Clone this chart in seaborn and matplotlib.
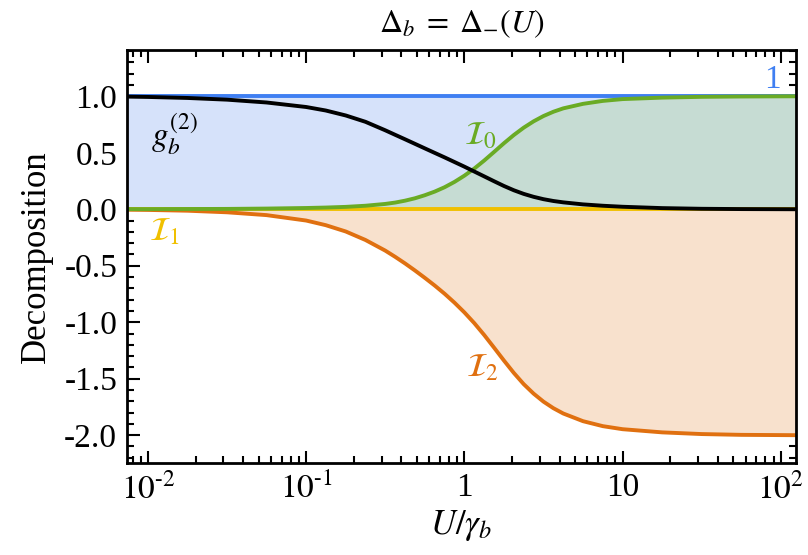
import matplotlib
matplotlib.use("Agg")
import matplotlib.pyplot as plt
import seaborn as sns
from matplotlib.ticker import FormatStrFormatter, MultipleLocator, LogLocator

# values (U / gamma_b on a log axis)
U = [0.0074, 0.01, 0.0178, 0.0316, 0.0562, 0.1, 0.133, 0.178, 0.237, 0.316,
     0.365, 0.422, 0.487, 0.562, 0.649, 0.75, 0.866, 1.0, 1.155, 1.334,
     1.54, 1.778, 2.054, 2.371, 2.738, 3.162, 3.652, 4.217, 5.623, 7.5,
     10, 17.78, 31.6, 56.2, 125]
g2 = [0.997, 0.994, 0.985, 0.970, 0.945, 0.905, 0.874, 0.830, 0.774, 0.699,
      0.659, 0.619, 0.579, 0.539, 0.499, 0.459, 0.418, 0.377, 0.334, 0.291,
      0.248, 0.206, 0.168, 0.136, 0.110, 0.089, 0.073, 0.061, 0.043, 0.031,
      0.022, 0.010, 0.004, 0.0015, 0.0]
I0 = [0.001, 0.001, 0.002, 0.003, 0.006, 0.011, 0.015, 0.021, 0.031, 0.047,
      0.059, 0.076, 0.097, 0.124, 0.156, 0.195, 0.242, 0.297, 0.36, 0.431,
      0.507, 0.584, 0.657, 0.722, 0.778, 0.825, 0.863, 0.893, 0.933, 0.959,
      0.975, 0.988, 0.995, 0.998, 1.0]
I1 = [0.0] * len(U)
I2 = [-0.004, -0.006, -0.013, -0.027, -0.052, -0.10, -0.141, -0.197, -0.272, -0.366,
      -0.421, -0.48, -0.542, -0.607, -0.675, -0.748, -0.827, -0.913, -1.008, -1.113,
      -1.225, -1.339, -1.449, -1.548, -1.632, -1.703, -1.761, -1.808, -1.876, -1.92,
      -1.947, -1.975, -1.99, -1.997, -2.0]
unit = [1.0] * len(U)

c_blue = '#3f7ff2'
c_green = '#6aab25'
c_yellow = '#f0c000'
c_orange = '#e07010'

sns.set_style('ticks')
plt.rcParams['font.family'] = ['Liberation Serif', 'DejaVu Serif']
plt.rcParams['mathtext.fontset'] = 'stix'
plt.rcParams['axes.unicode_minus'] = False
for k in ['text.color', 'axes.labelcolor', 'xtick.color', 'ytick.color', 'axes.edgecolor']:
    plt.rcParams[k] = 'black'

fig = plt.figure(figsize=(8.08, 5.55), dpi=100)
ax = fig.add_axes([0.157, 0.166, 0.828, 0.744])

# 填充区域
ax.fill_between(U, 0, unit, color='#d6e2fa', lw=0)
ax.fill_between(U, 0, I0, color='#c6dcd3', lw=0)
ax.fill_between(U, I2, 0, color='#f8e1cd', lw=0)

lw = 2.8
sns.lineplot(x=U, y=unit, ax=ax, color=c_blue, lw=lw)
sns.lineplot(x=U, y=I1, ax=ax, color=c_yellow, lw=lw)
sns.lineplot(x=U, y=I2, ax=ax, color=c_orange, lw=lw)
sns.lineplot(x=U, y=I0, ax=ax, color=c_green, lw=lw)
sns.lineplot(x=U, y=g2, ax=ax, color='black', lw=lw)

ax.set_xscale('log')
ax.set_xlim(0.00736, 124.5)
ax.set_ylim(-2.245, 1.41)

ax.set_xticks([0.01, 0.1, 1, 10, 100],
              [r'$10^{\text{-}2}$', r'$10^{\text{-}1}$', '1', '10', r'$10^{2}$'])
ax.xaxis.set_minor_locator(LogLocator(base=10, subs=range(2, 10), numticks=20))
ax.set_yticks([1.0, 0.5, 0.0, -0.5, -1.0, -1.5, -2.0])
ax.yaxis.set_major_formatter(FormatStrFormatter('%.1f'))
ax.yaxis.set_minor_locator(MultipleLocator(0.1))

ax.tick_params(which='both', direction='in', top=True, right=True, width=1.5)
ax.tick_params(which='major', length=9, labelsize=24, pad=7)
ax.tick_params(which='minor', length=5)
for s in ax.spines.values():
    s.set_linewidth(2)

ax.set_xlabel(r'$U/\gamma_b$', fontsize=25, labelpad=2)
ax.set_ylabel('Decomposition', fontsize=25, labelpad=8)
ax.set_title(r'$\Delta_b\;=\;\Delta_{-}(U)$', fontsize=23, pad=13)

# 曲线标注
ax.text(0.0148, 0.66, r'$g_b^{(2)}$', fontsize=24, ha='center', va='center')
ax.text(1.26, 0.65, r'$\mathcal{I}_0$', fontsize=24, ha='center', va='center', color=c_green)
ax.text(0.0128, -0.20, r'$\mathcal{I}_1$', fontsize=24, ha='center', va='center', color=c_yellow)
ax.text(1.30, -1.41, r'$\mathcal{I}_2$', fontsize=24, ha='center', va='center', color=c_orange)
ax.text(89, 1.15, '1', fontsize=24, ha='center', va='center', color=c_blue)

fig.savefig('out.png', dpi=100)
